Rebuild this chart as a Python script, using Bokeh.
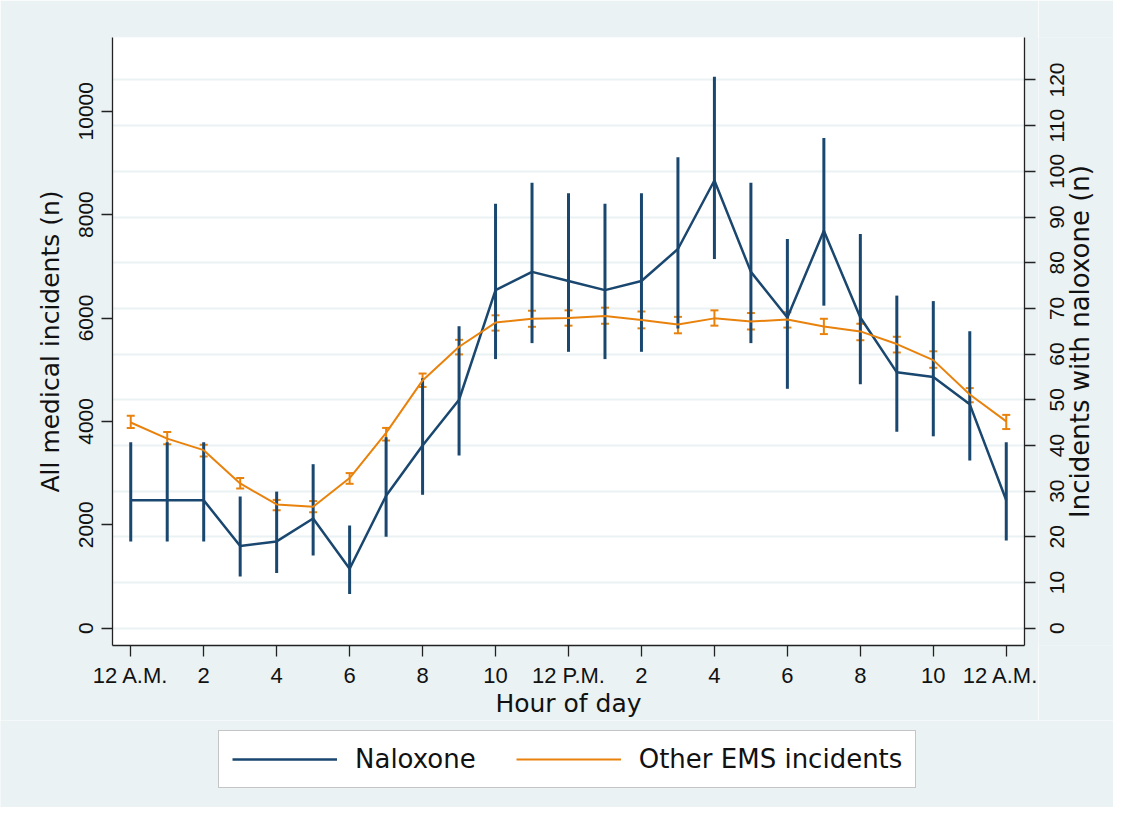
import math
from bokeh.plotting import figure
from bokeh.models import (Range1d, LinearAxis, FixedTicker, ColumnDataSource, Whisker, TeeHead,
                          Legend, LegendItem, Grid)
from bokeh.layouts import row, column
from bokeh.core.properties import value
from bokeh.embed import file_html
from bokeh.resources import INLINE

hours = list(range(25))
x_tick_labels = ["12 A.M.", "2", "4", "6", "8", "10", "12 P.M.", "2", "4", "6", "8", "10", "12 A.M."]

# Naloxone incidents (right axis) with 95% CI
nal = [28, 28, 28, 18, 19, 24, 13, 29, 40, 50, 74, 78, 76, 74, 76, 83, 98, 78, 68, 87, 68, 56, 55, 49, 28]
nal_lo = [19.0, 19.0, 19.0, 11.3, 12.1, 15.9, 7.5, 20.0, 29.2, 37.8, 58.9, 62.4, 60.5, 58.9, 60.5, 65.6,
          80.8, 62.4, 52.4, 70.6, 53.4, 43.0, 42.0, 36.7, 19.2]
nal_hi = [40.7, 40.7, 40.7, 28.8, 29.9, 35.9, 22.5, 41.8, 54.7, 66.1, 92.9, 97.5, 95.2, 92.9, 95.2, 103.1,
          120.7, 97.5, 85.2, 107.3, 86.3, 72.8, 71.6, 65.0, 40.7]

# Other EMS incidents (left axis) with 95% CI
ems = [3978, 3667, 3444, 2800, 2393, 2348, 2904, 3778, 4793, 5444, 5911, 5985, 6000, 6037, 5963, 5874,
       5993, 5933, 5970, 5837, 5741, 5496, 5185, 4519, 4000]
ems_lo = [3874, 3556, 3319, 2704, 2281, 2244, 2793, 3630, 4667, 5296, 5756, 5830, 5852, 5889, 5800, 5704,
          5852, 5778, 5815, 5689, 5570, 5333, 5037, 4370, 3852]
ems_hi = [4111, 3793, 3548, 2904, 2481, 2459, 3000, 3874, 4926, 5578, 6052, 6141, 6148, 6200, 6126, 6022,
          6148, 6096, 6111, 5985, 5889, 5637, 5356, 4644, 4126]

left_ticks = [0, 2000, 4000, 6000, 8000, 10000]
right_ticks = list(range(0, 130, 10))
right_tick_labels = [str(t) for t in right_ticks]

x_title = "Hour of day"
left_title = "All medical incidents (n)"
right_title = "Incidents with naloxone (n)"
legend_labels = ["Naloxone", "Other EMS incidents"]

NAVY = "#1a476f"
ORANGE = "#e9820c"
BG = "#eaf2f3"
AX = "#222222"
TXT = "#111111"
TICK_FONT = "Liberation Sans"
TITLE_FONT = "DejaVu Sans"

TOTAL_W, TOTAL_H = 1113, 807
TOP, FRAME_H, BOTTOM = 37, 608, 75
LEFT, FRAME_W, RIGHT = 112, 912, 14
P2_X0 = LEFT + FRAME_W + RIGHT
W2 = TOTAL_W - P2_X0
H3 = TOTAL_H - (TOP + FRAME_H + BOTTOM)

src = ColumnDataSource(dict(h=hours, nal=nal, nlo=nal_lo, nhi=nal_hi, ems=ems, elo=ems_lo, ehi=ems_hi))
nal_range = Range1d(-3.79, 129.3)

p = figure(frame_width=FRAME_W, frame_height=FRAME_H,
           min_border_left=LEFT, min_border_right=RIGHT, min_border_top=TOP, min_border_bottom=BOTTOM,
           x_range=Range1d(-0.5, 24.5), y_range=Range1d(-335, 11426),
           output_backend="svg", toolbar_location=None,
           background_fill_color="white", border_fill_color=BG, outline_line_color=None)

p.extra_y_ranges = {"nal": nal_range}

p.xgrid.visible = False
p.ygrid.visible = False
g = Grid(dimension=1, ticker=FixedTicker(ticks=right_ticks), y_range_name="nal",
         grid_line_color=BG, grid_line_width=2)
p.add_layout(g)

# Naloxone
p.segment(x0="h", y0="nlo", x1="h", y1="nhi", source=src, y_range_name="nal",
          line_color=NAVY, line_width=3)
p.line("h", "nal", source=src, y_range_name="nal", line_color=NAVY, line_width=2.5)

# Other EMS
p.line("h", "ems", source=src, line_color=ORANGE, line_width=2)
wh = Whisker(source=src, base="h", upper="ehi", lower="elo", line_color=ORANGE, line_width=2,
             upper_head=TeeHead(size=8, line_color=ORANGE, line_width=2),
             lower_head=TeeHead(size=8, line_color=ORANGE, line_width=2))
p.add_layout(wh)


def style_axis(ax):
    ax.axis_line_color = AX
    ax.axis_line_width = 1.3
    ax.major_tick_line_color = AX
    ax.major_tick_line_width = 1.3
    ax.major_tick_out = 11
    ax.major_tick_in = 0
    ax.minor_tick_line_color = None
    ax.major_label_text_font = TICK_FONT
    ax.major_label_text_font_size = "21px"
    ax.major_label_text_color = TXT
    ax.axis_label_text_font = TITLE_FONT
    ax.axis_label_text_font_size = "25px"
    ax.axis_label_text_font_style = "normal"
    ax.axis_label_text_color = TXT


xa = p.xaxis[0]
style_axis(xa)
xa.ticker = FixedTicker(ticks=list(range(0, 25, 2)))
xa.major_label_overrides = {t: lab for t, lab in zip(range(0, 25, 2), x_tick_labels)}
xa.major_label_text_font_size = "22px"
xa.major_label_standoff = 6
xa.axis_label = x_title
xa.axis_label_standoff = -2

ya = p.yaxis[0]
style_axis(ya)
ya.ticker = FixedTicker(ticks=left_ticks)
ya.major_label_overrides = {t: str(t) for t in left_ticks}
ya.major_label_orientation = "vertical"
ya.major_label_standoff = 8
ya.axis_label = left_title
ya.axis_label_standoff = 12

# right axis: line + ticks here (labels not drawn), its labels live in the companion figure
ra = LinearAxis(y_range_name="nal", ticker=FixedTicker(ticks=right_ticks))
style_axis(ra)
ra.major_label_text_font_size = "0px"
ra.major_label_text_color = None
ra.major_label_standoff = 0
p.add_layout(ra, "right")

# companion figure: right tick labels and right-axis title (both read bottom-to-top)
p2 = figure(width=W2, frame_height=FRAME_H, min_border_left=0, min_border_right=0,
            min_border_top=TOP, min_border_bottom=BOTTOM,
            x_range=Range1d(0, W2), y_range=nal_range,
            x_axis_location=None, y_axis_location=None,
            output_backend="svg", toolbar_location=None,
            background_fill_color=BG, border_fill_color=BG, outline_line_color=None)
p2.grid.visible = False
p2.text(x=[1049 - P2_X0] * len(right_ticks), y=right_ticks, text=right_tick_labels, angle=math.pi / 2,
        text_align="center", text_baseline="top",
        text_font=value(TICK_FONT), text_font_size="21px", text_color=TXT)
p2.text(x=[1079 - P2_X0], y=[(nal_range.start + nal_range.end) / 2], text=[right_title], angle=math.pi / 2,
        text_align="center", text_baseline="middle",
        text_font=value(TITLE_FONT), text_font_size="26px", text_color=TXT)

# legend strip below
p3 = figure(width=TOTAL_W, height=H3, min_border=0,
            x_range=Range1d(0, 1), y_range=Range1d(0, 1),
            x_axis_location=None, y_axis_location=None,
            output_backend="svg", toolbar_location=None,
            background_fill_color=BG, border_fill_color=BG, outline_line_color=None)
p3.grid.visible = False
r_nal = p3.line(x=[5, 6], y=[5, 6], line_color=NAVY, line_width=2.5)
r_ems = p3.line(x=[5, 6], y=[5, 6], line_color=ORANGE, line_width=2)
legend = Legend(items=[LegendItem(label=legend_labels[0], renderers=[r_nal]),
                       LegendItem(label=legend_labels[1], renderers=[r_ems])],
                orientation="horizontal", location=(218, 19), margin=0,
                glyph_width=105, glyph_height=20, label_standoff=18, spacing=40, padding=13,
                label_text_font=TITLE_FONT, label_text_font_size="26px", label_text_color=TXT,
                border_line_color="#8c8c8c", border_line_width=1.5,
                background_fill_color="white", background_fill_alpha=1.0)
p3.add_layout(legend)

layout = column(row(p, p2, spacing=0), p3, spacing=0)
open("out.html", "w").write(file_html(layout, INLINE))
